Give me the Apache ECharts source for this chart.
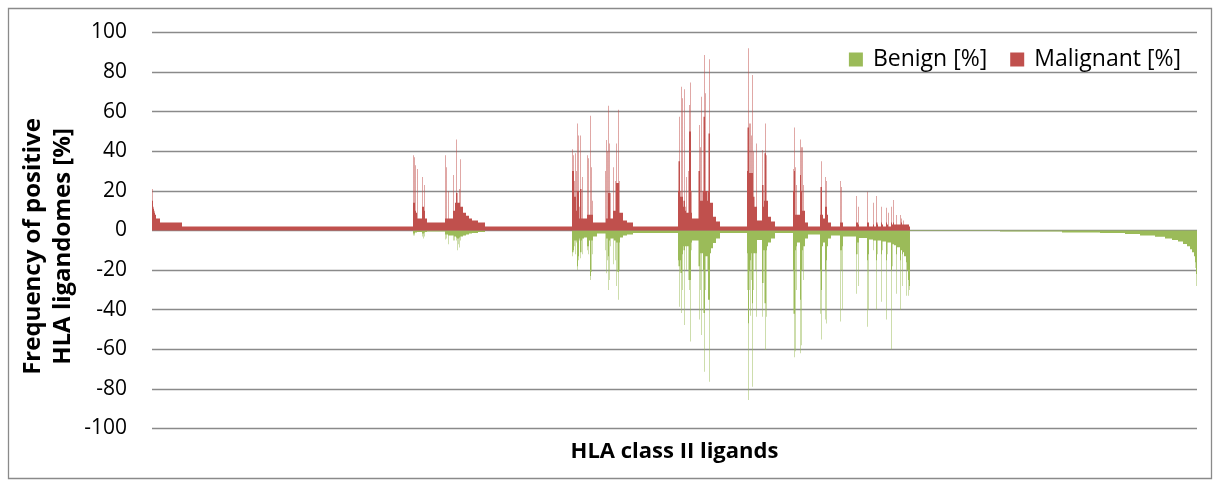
<!DOCTYPE html>
<html>
<head>
<meta charset="utf-8">
<script src="https://cdn.jsdelivr.net/npm/echarts@6/dist/echarts.min.js"></script>
<style>
  html, body { margin: 0; padding: 0; background: #fff; }
  #chart { width: 1215px; height: 482px; }
</style>
</head>
<body>
<div id="chart"></div>
<script>
// Ligand frequencies in percent, stored as run-length pairs: [value, number of ligands].
// Malignant values are positive, benign values are negative (plotted below zero).

const malignantLead = [[21,1],[15,1],[12,1],[11,1],[10,1],[9,1],[8,2],[6,8],[4,44],[2,462]];
const benignLead = [[0,522]];

const malignantAB = [[38,1],[14,2],[37,1],[10,1],[33,1],[9,2],[31,1],[6,9],[12,1],[27,1],[12,2],[23,1],[10,1],[6,4],[4,36],
  [38,1],[6,1],[32,1],[6,3],[20,1],[6,9],[28,1],[10,3],[14,2],[19,1],[46,1],[19,1],[14,3],[21,1],[14,1],[36,1],[12,5],
  [9,6],[7.5,6],[6,6],[5,12],[4,14],[2,174]];
const benignAB = [[-2.5,1],[-1.5,2],[-2.5,1],[-1,4],[-0.8,10],[-1.5,1],[-3,1],[-4,1],[-1.5,1],[-3,1],[-1,1],[-0.8,4],[-0.5,36],
  [-4.5,1],[-2,2],[-4,1],[-2,2],[-7,1],[-2.5,9],
  [-5,1],[-2.5,1],[-3,1],[-5,1],[-3,2],[-5,1],[-3.5,1],[-10,1],[-4,2],[-7,1],[-8.6,1],[-3.5,1],[-3,1],[-5,1],[-3,4],
  [-2.5,6],[-2,6],[-1.5,6],[-1.2,12],[-0.8,14],[0,174]];

const malignantCD = [[41,1],[30,1],[38,1],[30,1],[17,1],[25,1],[39,1],[17,1],[10,1],[30,1],[54,1],[20,1],[48,1],[20,1],
  [6,1],[12,1],[48,1],[21,1],[21,1],[6,2],[27,1],[6,8],
  [38,1],[8,1],[36.5,1],[8,3],[58,1],[8,1],[32,1],[8,1],[15,1],[8,1],
  [4,25],[30,1],[45.7,1],[6,1],[40,1],[6,1],[63,1],[19,1],[44,1],[19,2],[6,5],
  [32,1],[10,3],[25,1],[10,1],[44,1],[24,3],[61,1],[24,1],[25,1],[9,7],[5,8],[4,12],
  [2,90]];
const benignCD = [[-13,1],[-11,1],[-10,1],[-11,1],[-5,1],[-8,1],[-12,1],[-5,2],[-6,1],[-20,1],[-18,1],[-13,1],[-15,1],
  [-5,1],[-4,1],[-11,1],[-14,1],[-11,1],[-5,1],[-4,1],[-12,1],
  [-4,2],[-3.5,6],
  [-8,1],[-10,1],[-12,1],[-8,1],[-5,2],[-23,1],[-25,1],[-21,1],[-5,2],[-12,1],
  [-3,8],[-1.5,17],[-10,1],
  [-21.6,1],[-4,1],[-15,1],[-4,1],[-30,1],[-13,1],[-25,1],[-5,1],[-4,1],[-8,1],[-4,4],
  [-17,1],[-4,1],[-5,2],[-15,1],[-5,1],[-28,1],[-6,2],[-21,2],[-35,1],[-20,1],[-6,1],[-3.5,6],
  [-2.5,8],[-2,12],
  [-1.2,90]];

const malignantE = [[20,1],[35,2],[57.5,1],[20,1],[17,2],[72.6,1],[66.8,1],[17,1],[15,1],[12,1],[71.3,1],[15,1],[12,1],[10,1],
  [27,1],[9,4],[30,1],[63.4,1],[50,2],[74.7,1],[20,1],[9,1],
  [6,13],[30,2],[53.3,1],
  [15,1],[42,1],[67.6,1],[15,2],[20,1],
  [20,1],[57.5,1],[88.6,1],[57.5,1],[20,1],[69.3,1],
  [20,2],[15,1],[20,1],[49,1],[20,1],
  [86.5,1],[49,1],[14,6],[7,6],[4.5,8],
  [2,54]];
const benignE = [[-15,1],[-18,2],[-38.5,1],[-15,1],[-21.5,1],[-41.7,1],[-21.5,1],[-30,1],[-12,1],[-10,1],[-8,1],[-47.7,1],[-10,1],[-8,2],
  [-20,1],[-8,4],[-25,1],[-30,1],[-25,1],[-56,1],[-25,1],[-10,1],[-6,1],
  [-5,12],[-5,1],[-18,1],[-45,1],[-18,1],
  [-30,1],[-11.5,1],[-52.8,1],[-11.5,3],
  [-20,1],[-41.7,1],[-71.3,1],[-41.7,1],[-30,1],[-13,1],
  [-13,3],[-20,1],[-35,2],
  [-76.4,1],[-35,1],[-11.5,2],[-9,4],[-6.3,6],[-4,8],
  [-1.2,54]];

const malignantF = [[30,1],[52,2],[92,1],[54,1],[29,1],[54,1],[29,1],[48,1],[29,1],[78.5,1],[29,1],[40,1],[17,2],[12,3],[44,1],[12,1],
  [5,10],[40.7,1],[23,2],[12,1],[15,1],[39,2],[54,1],[38,1],[15,3],[7,6],[4.5,8],
  [2,36]];
const benignF = [[-11.5,1],[-30,1],[-46.8,1],[-85.6,1],[-30,1],[-20,1],[-43,1],[-15,1],[-25,1],[-11.5,1],[-36.7,1],[-78.9,1],[-30,1],
  [-11.5,4],[-20,1],[-43.5,1],[-11.5,1],
  [-4.8,10],[-43.5,1],[-26.5,2],[-10,2],[-36.7,2],[-60.4,1],[-43.5,1],[-10,1],[-8,2],[-6,6],[-4,8],
  [-1.2,36]];

const malignantG = [[20,1],[31,1],[30,1],[52,1],[32,1],[8,1],[23,1],[8,7],[28,1],[46,1],[42,1],[20,1],[42,1],[10,1],[23,1],[10,3],[4,6],
  [2,24]];
const benignG = [[-20,1],[-42,2],[-64,1],[-61,1],[-10,1],[-30,1],[-8,1],[-6,6],[-35,1],[-62,1],[-58,1],[-20,2],[-10,1],[-25,1],[-8,3],[-4,6],
  [-2,24]];

const malignantH = [[8,1],[22,2],[35,1],[8,2],[6,4],[27,1],[12,2],[25,1],[8,2],[4,6]];
const benignH = [[-20,1],[-42,1],[-55,1],[-30,1],[-8,2],[-6,4],[-20,1],[-45,1],[-47,1],[-15,1],[-8,2],[-4,6]];

const malignantSmall = [[2,18],[4,1],[25,1],[22,1],[4,3],[2,26],[4,1],[17.4,1],[4,2],[12,1],[3,1],[2,16],[4,1],[19.6,1],[4,2],[2,8],
  [14,1],[3,1],[2,4],[17.4,1],[4,2],[3,1],[2,6],[12,1],[4,1],[3,2],[2,6],[11.5,1],[4,1],[3,2],[2,1],[9,1],[2,4],
  [12,1],[4,1],[3,2],[15.4,1],[4,1],[3,4],[7.8,1],[3,7],[7.8,1],[3,1],[4,1],[6,1],[3,2],[5,1],[3,11],[2,2]];
const benignSmall = [[-2.5,18],[-10,1],[-46,1],[-20,1],[-10,1],[-40,1],[-8,1],[-3,26],[-32,1],[-12,2],[-6,1],[-28,1],[-6,1],[-3.8,16],
  [-15,1],[-48.6,1],[-40,1],[-12,1],[-4.5,8],[-10,1],[-5,5],[-40,1],[-15,1],[-12,1],[-5,7],[-36,1],[-12,1],[-10,1],[-5.5,7],
  [-45,1],[-15,1],[-12,1],[-6,7],[-60,1],[-20,1],[-18,1],[-7,3],[-7.5,4],[-32,1],[-12,1],[-8.5,6],
  [-40,1],[-15,1],[-10,2],[-28,1],[-12,1],[-11,2],[-13,4],[-16,1],[-33,1],[-20,2],[-25,1],[-33,1],[-30,1],[-28,1]];

const malignantTail = [[0,574]];
const benignTail = [[-0.3,180],[-0.5,124],[-1,76],[-1.3,50],[-1.8,30],[-2.5,30],[-3.2,20],[-4,14],[-4.8,12],[-5.6,10],
  [-6.8,8],[-8,6],[-9.5,4],[-11,4],[-13,2],[-16,1],[-19,1],[-22,1],[-28,1]];

const yTicks = { min: -100, max: 100, step: 20 };
const seriesNames = ['Benign [%]', 'Malignant [%]'];

// Expand [value, count] pairs into one value per ligand.
function expand(runs) {
  const out = [];
  runs.forEach(([v, n]) => { for (let i = 0; i < n; i++) out.push(v); });
  return out;
}

const malignant = expand([].concat(malignantLead, malignantAB, malignantCD, malignantE, malignantF,
  malignantG, malignantH, malignantSmall, malignantTail));
const benign = expand([].concat(benignLead, benignAB, benignCD, benignE, benignF,
  benignG, benignH, benignSmall, benignTail));
const ligands = malignant.map((_, i) => String(i + 1));

const FONT = 'Open Sans';
const chart = echarts.init(document.getElementById('chart'), null, { renderer: 'canvas' });

chart.setOption({
  animation: false,
  backgroundColor: '#fff',
  grid: { left: 152, right: 18, top: 32.5, bottom: 53.5, outerBoundsMode: 'none' },
  legend: {
    data: seriesNames,
    right: 29,
    top: 43,
    icon: 'rect',
    itemWidth: 14,
    itemHeight: 14,
    itemGap: 23,
    textStyle: { fontFamily: FONT, fontSize: 23, color: '#000', padding: [0, 0, 0, 5] }
  },
  xAxis: {
    type: 'category',
    data: ligands,
    axisLine: { show: false },
    axisTick: { show: false },
    axisLabel: { show: false },
    splitLine: { show: false },
    name: 'HLA class II ligands',
    nameLocation: 'middle',
    nameGap: 12,
    nameMoveOverlap: false,
    nameTextStyle: { fontFamily: FONT, fontWeight: 'bold', fontSize: 22, color: '#000' }
  },
  yAxis: {
    type: 'value',
    min: yTicks.min,
    max: yTicks.max,
    interval: yTicks.step,
    axisLine: { show: false },
    axisTick: { show: false },
    splitLine: { lineStyle: { color: '#8a8a8a', width: 1.3 } },
    axisLabel: { fontFamily: FONT, fontSize: 21, color: '#000', margin: 25 },
    name: 'Frequency of positive\nHLA ligandomes [%]',
    nameLocation: 'middle',
    nameRotate: 90,
    nameGap: 74,
    nameMoveOverlap: false,
    nameTextStyle: { fontFamily: FONT, fontWeight: 'bold', fontSize: 24, lineHeight: 30, color: '#000', padding: [0, 32, 0, 0] }
  },
  series: [
    {
      name: seriesNames[0],
      type: 'bar',
      data: benign,
      large: true,
      largeThreshold: 100,
      barCategoryGap: '0%',
      barGap: '-100%',
      itemStyle: { color: '#9BBB59' }
    },
    {
      name: seriesNames[1],
      type: 'bar',
      data: malignant,
      large: true,
      largeThreshold: 100,
      barCategoryGap: '0%',
      barGap: '-100%',
      itemStyle: { color: '#C0504D' }
    }
  ],
  graphic: [{
    type: 'rect',
    silent: true,
    shape: { x: 8.5, y: 8.5, width: 1203, height: 470 },
    style: { fill: null, stroke: '#8a8a8a', lineWidth: 1.3 }
  }]
});
</script>
</body>
</html>
